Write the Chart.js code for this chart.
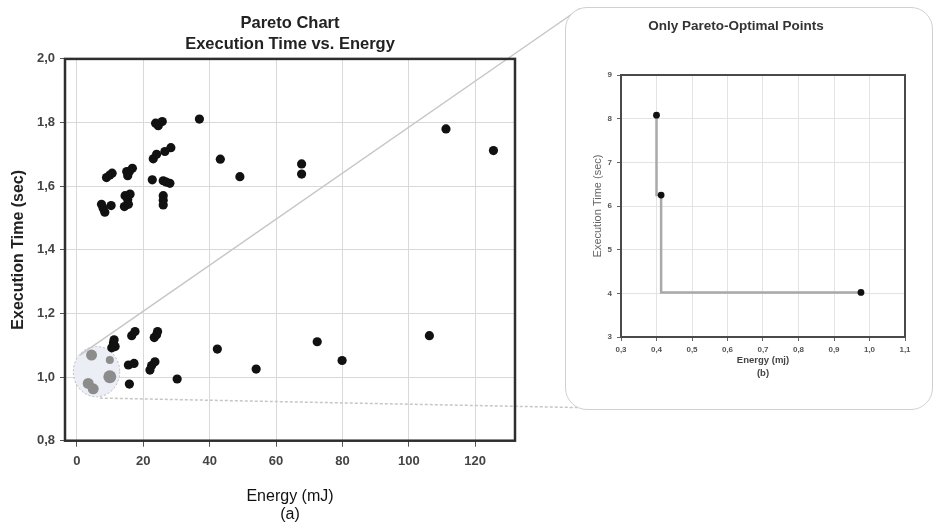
<!DOCTYPE html>
<html><head><meta charset="utf-8">
<script src="https://cdn.jsdelivr.net/npm/chart.js@4"></script>
<style>
html,body{margin:0;padding:0;background:#fff;width:937px;height:527px;overflow:hidden;}
#main{position:absolute;left:0;top:0;}
#panel{position:absolute;left:565px;top:7px;width:366px;height:401px;border:1.5px solid #d0d0d0;border-radius:22px;background:#fff;}
#inset{position:absolute;left:567px;top:9px;}
</style></head><body>
<canvas id="main" width="937" height="527"></canvas>
<div id="panel"></div>
<canvas id="inset" width="366" height="399"></canvas>
<script>
// ---------- data (main chart) ----------
const energyAll = [
  23.7, 24.5, 25.7, 36.9,
  23.0, 24.0, 26.5, 28.3,
  43.2, 49.1, 67.7, 67.7, 111.2, 125.5,
  8.9, 9.9, 10.6,
  15.0, 15.3, 15.8, 16.7,
  22.7, 26.0, 26.9, 28.0,
  26.0, 26.0, 26.0,
  7.4, 7.9, 8.4, 10.3,
  14.3, 14.5, 15.3, 15.5, 16.0,
  10.5, 11.0, 11.2, 11.5,
  16.5, 17.5, 23.3, 24.0, 24.3,
  42.3,
  15.5, 17.2, 22.0, 22.5, 23.5,
  15.8, 30.2, 54.0, 72.4, 79.9, 106.2
];
const timeAll = [
  1.798, 1.790, 1.803, 1.811,
  1.686, 1.700, 1.709, 1.721,
  1.685, 1.630, 1.670, 1.638, 1.780, 1.712,
  1.627, 1.635, 1.641,
  1.646, 1.633, 1.646, 1.656,
  1.620, 1.617, 1.613, 1.609,
  1.570, 1.556, 1.541,
  1.543, 1.531, 1.518, 1.539,
  1.536, 1.570, 1.557, 1.543, 1.575,
  1.092, 1.108, 1.117, 1.096,
  1.130, 1.143, 1.124, 1.133, 1.143,
  1.088,
  1.038, 1.043, 1.022, 1.036, 1.048,
  0.978, 0.994, 1.025, 1.111, 1.052, 1.130
];
// Pareto-optimal points inside the highlighted (zoomed) region
const energyOptimal = [4.4, 9.9, 9.9, 3.4, 4.9];
const timeOptimal   = [1.069, 1.054, 1.001, 0.980, 0.963];
const mainXTicks = [0, 20, 40, 60, 80, 100, 120];
const mainYTicks = [0.8, 1.0, 1.2, 1.4, 1.6, 1.8, 2.0];

// ---------- data (inset chart) ----------
const paretoEnergy = [0.400, 0.413, 0.976];
const paretoTime   = [8.08, 6.25, 4.02];
const insetXTicks = [0.3, 0.4, 0.5, 0.6, 0.7, 0.8, 0.9, 1.0, 1.1];
const insetYTicks = [3, 4, 5, 6, 7, 8, 9];

// highlighted region (data units)
const zoomRegion = {x: 5.9, y: 1.017, rx: 7.0, ry: 0.079};

const FAM = "'Liberation Sans', Arial, Helvetica, sans-serif";
const comma = v => Number(v).toFixed(1).replace('.', ',');

const mainDecor = {
  id: 'mainDecor',
  beforeDatasetsDraw(chart) {
    const {ctx, chartArea: a, scales: {x, y}} = chart;
    ctx.save();
    // zoom region ellipse
    const cx = x.getPixelForValue(zoomRegion.x), cy = y.getPixelForValue(zoomRegion.y);
    const rx = x.getPixelForValue(zoomRegion.x + zoomRegion.rx) - cx;
    const ry = cy - y.getPixelForValue(zoomRegion.y + zoomRegion.ry);
    ctx.beginPath();
    ctx.ellipse(cx, cy, rx, ry, 0, 0, Math.PI * 2);
    ctx.fillStyle = '#eceef5';
    ctx.fill();
    ctx.setLineDash([2, 2]);
    ctx.strokeStyle = '#b8b8c0';
    ctx.lineWidth = 1;
    ctx.stroke();
    // connector lines to the inset panel
    ctx.setLineDash([]);
    ctx.strokeStyle = '#c6c6c6';
    ctx.lineWidth = 1.5;
    ctx.beginPath();
    ctx.moveTo(x.getPixelForValue(0.9), y.getPixelForValue(1.069));
    ctx.lineTo(580, 8.5);
    ctx.stroke();
    ctx.setLineDash([3, 2]);
    ctx.beginPath();
    ctx.moveTo(x.getPixelForValue(6.9), y.getPixelForValue(0.934));
    ctx.lineTo(600, 408);
    ctx.stroke();
    ctx.setLineDash([]);
    // plot frame
    ctx.strokeStyle = '#2e2e2e';
    ctx.lineWidth = 2.5;
    ctx.strokeRect(a.left, a.top, a.right - a.left, a.bottom - a.top);
    ctx.restore();
  }
};

new Chart(document.getElementById('main'), {
  type: 'scatter',
  data: {
    datasets: [
      {
        data: energyAll.map((e, i) => ({x: e, y: timeAll[i]})),
        backgroundColor: '#111', borderWidth: 0, pointRadius: 4.6
      },
      {
        data: energyOptimal.map((e, i) => ({x: e, y: timeOptimal[i]})),
        backgroundColor: '#8c8c8c', borderWidth: 0, pointRadius: [5.5, 4, 6.5, 5.5, 5.5]
      }
    ]
  },
  options: {
    responsive: false, animation: false,
    layout: {padding: {left: 0, top: 0, right: 422, bottom: 0}},
    plugins: {
      legend: {display: false}, tooltip: {enabled: false},
      title: {
        display: true, fullSize: false,
        text: ['Pareto Chart', 'Execution Time vs. Energy'],
        color: '#222',
        font: {family: FAM, size: 16.5, weight: 'bold', lineHeight: 1.27},
        padding: {top: 13, bottom: 4}
      }
    },
    scales: {
      x: {
        type: 'linear', min: -3.6, max: 132,
        afterBuildTicks: s => { s.ticks = mainXTicks.map(v => ({value: v})); },
        afterFit: s => { s.height = 86.3; },
        ticks: {color: '#444', font: {family: FAM, size: 13, weight: 'bold'}, padding: 7, callback: v => String(v)},
        grid: {color: '#d9d9d9', lineWidth: 1, tickLength: 6, tickColor: '#555'},
        border: {display: false},
        title: {display: true, text: ['Energy (mJ)', '(a)'], color: '#111',
                font: {family: FAM, size: 16, lineHeight: 1.125}, padding: {top: 0, bottom: 3}}
      },
      y: {
        type: 'linear', min: 0.8, max: 2.0,
        afterBuildTicks: s => { s.ticks = mainYTicks.map(v => ({value: v})); },
        afterFit: s => { s.width = 65; },
        ticks: {color: '#444', font: {family: FAM, size: 13, weight: 'bold'}, padding: 5, callback: comma},
        grid: {color: '#d9d9d9', lineWidth: 1, tickLength: 5, tickColor: '#555'},
        border: {display: false},
        title: {display: true, text: 'Execution Time (sec)', color: '#222',
                font: {family: FAM, size: 16, weight: 'bold', lineHeight: 1.2}, padding: {top: 8.5, bottom: 0}}
      }
    }
  },
  plugins: [mainDecor]
});

const insetFrame = {
  id: 'insetFrame',
  beforeDatasetsDraw(chart) {
    const {ctx, chartArea: a} = chart;
    ctx.save();
    ctx.strokeStyle = '#4a4a4a';
    ctx.lineWidth = 2;
    ctx.strokeRect(a.left, a.top, a.right - a.left, a.bottom - a.top);
    ctx.restore();
  }
};

new Chart(document.getElementById('inset'), {
  type: 'scatter',
  data: {
    datasets: [{
      data: paretoEnergy.map((e, i) => ({x: e, y: paretoTime[i]})),
      showLine: true, stepped: 'after',
      borderColor: '#a9a9a9', borderWidth: 2.5,
      pointRadius: 3.4, pointBackgroundColor: '#111', pointBorderWidth: 0
    }]
  },
  options: {
    responsive: false, animation: false,
    layout: {padding: {left: 0, top: 0, right: 28, bottom: 0}},
    plugins: {
      legend: {display: false}, tooltip: {enabled: false},
      title: {
        display: true, text: 'Only Pareto-Optimal Points', color: '#333',
        font: {family: FAM, size: 13.5, weight: 'bold', lineHeight: 1.2},
        padding: {top: 9, bottom: 40.8}
      }
    },
    scales: {
      x: {
        type: 'linear', min: 0.3, max: 1.1,
        afterBuildTicks: s => { s.ticks = insetXTicks.map(v => ({value: v})); },
        afterFit: s => { s.height = 71; },
        ticks: {color: '#555', font: {family: FAM, size: 8, weight: 'bold'}, padding: 4, callback: comma},
        grid: {color: '#e3e3e3', lineWidth: 1, tickLength: 4, tickColor: '#666'},
        border: {display: false},
        title: {display: true, text: ['Energy (mj)', '(b)'], color: '#444',
                font: {family: FAM, size: 9.5, weight: 'bold', lineHeight: 1.37}, padding: {top: 0, bottom: 28.5}}
      },
      y: {
        type: 'linear', min: 3, max: 9,
        afterBuildTicks: s => { s.ticks = insetYTicks.map(v => ({value: v})); },
        afterFit: s => { s.width = 54; },
        ticks: {color: '#555', font: {family: FAM, size: 8, weight: 'bold'}, padding: 5, callback: v => String(v)},
        grid: {color: '#e3e3e3', lineWidth: 1, tickLength: 4, tickColor: '#666'},
        border: {display: false},
        title: {display: true, text: 'Execution Time (sec)', color: '#666',
                font: {family: FAM, size: 11, lineHeight: 1.2}, padding: {top: 24.4, bottom: 0}}
      }
    }
  },
  plugins: [insetFrame]
});
</script>
</body></html>
